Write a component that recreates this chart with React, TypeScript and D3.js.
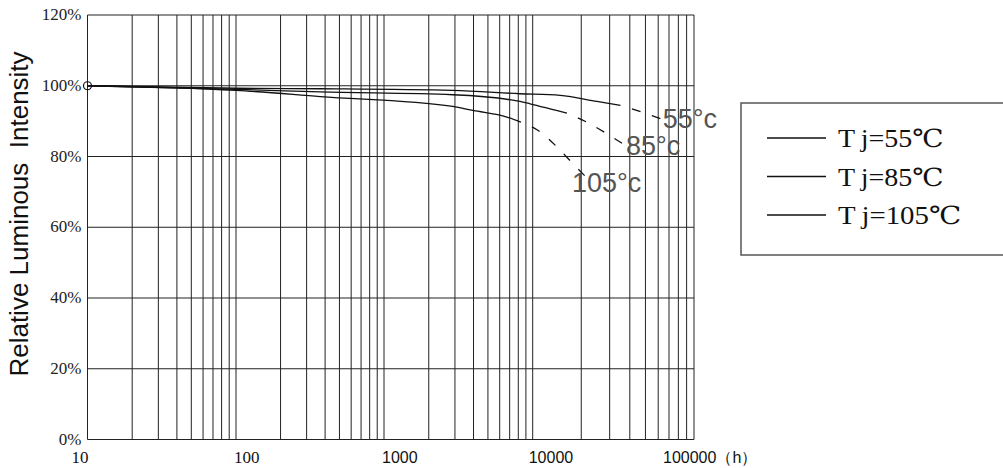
import React from 'react'
import * as d3 from 'd3'

// hours / relative intensity (%)
const xTicks = [10, 100, 1000, 10000, 100000]
const xTickLabels = ['10', '100', '1000', '10000', '100000（h）']
const yTicks = [0, 20, 40, 60, 80, 100, 120]
const yTickLabels = ['0%', '20%', '40%', '60%', '80%', '100%', '120%']

const seriesNames = ['Tj=55℃', 'Tj=85℃', 'Tj=105℃']
const curveLabels = ['55°c', '85°c', '105°c']

const solid55: [number, number][] = [
  [10, 100], [100, 99.3], [370, 99.15], [2900, 98.67], [8200, 97.74],
  [14800, 97.26], [25000, 95.56], [35000, 94.43],
]
const dash55: [number, number][] = [[35000, 94.43], [47700, 92.5], [63000, 90.6]]

const solid85: [number, number][] = [
  [10, 100], [100, 99.0], [370, 98.25], [2900, 97.45], [8200, 95.56],
  [9600, 94.9], [14800, 92.73], [16300, 92.28],
]
const dash85: [number, number][] = [[16300, 92.28], [21700, 89.7], [28900, 86.4], [37900, 83.0]]

const solid105: [number, number][] = [
  [10, 100], [100, 98.7], [370, 96.95], [2900, 94.14], [3970, 93.01],
  [6710, 91.15], [8340, 89.73],
]
const dash105: [number, number][] = [
  [8340, 89.73], [11250, 86.8], [14360, 82.4], [18030, 77.65], [23300, 72.5],
]

const solids = [solid55, solid85, solid105]
const dashes = [dash55, dash85, dash105]

const W = 1003
const H = 468

const App: React.FC = () => {
  // the decades on the original sheet are not all equally wide
  const x = d3.scaleLog().domain([10, 100, 1000, 10000, 100000]).range([87.5, 236, 384, 532.7, 694])
  const y = d3.scaleLinear().domain([0, 120]).range([439.5, 15])

  const minor: number[] = []
  for (let d = 10; d < 100000; d *= 10) {
    for (let k = 2; k <= 9; k++) minor.push(k * d)
  }

  const line = d3
    .line<[number, number]>()
    .x(d => x(d[0]))
    .y(d => y(d[1]))
    .curve(d3.curveMonotoneX)

  const labelDx = [1, 0, -20]
  const serif = '"Liberation Serif", "DejaVu Serif", serif'
  const sans = '"Liberation Sans", Arial, sans-serif'

  return (
    <svg
      width={W}
      height={H}
      style={{ position: 'absolute', left: 0, top: 0, background: '#fff' }}
    >
      {/* grid */}
      <g stroke="#222" strokeWidth={1}>
        {minor.concat([100, 1000, 10000]).map(v => (
          <line key={'v' + v} x1={x(v)} x2={x(v)} y1={y(120)} y2={y(0)} />
        ))}
        {yTicks.map(v => (
          <line key={'h' + v} x1={x(10)} x2={x(100000)} y1={y(v)} y2={y(v)} />
        ))}
        <line x1={x(10)} x2={x(10)} y1={y(120)} y2={y(0)} />
        <line x1={x(100000)} x2={x(100000)} y1={y(120)} y2={y(0)} />
      </g>

      {/* y tick labels */}
      {yTicks.map((v, i) => (
        <text
          key={'yl' + v}
          x={x(10) - 6}
          y={y(v) + 5}
          textAnchor="end"
          fontFamily={serif}
          fontSize={17}
          fill="#222"
        >
          {yTickLabels[i]}
        </text>
      ))}

      {/* x tick labels */}
      {xTicks.map((v, i) => {
        const isSerif = v <= 100
        const anchor = i === 0 ? 'end' : 'start'
        const dx = i === 0 ? 1 : i === xTicks.length - 1 ? -31 : i === 3 ? -4 : -2
        return (
          <text
            key={'xl' + v}
            x={x(v) + dx}
            y={463}
            textAnchor={anchor}
            fontFamily={isSerif ? serif : sans}
            fontSize={isSerif ? 17 : 16}
            fill="#111"
          >
            {xTickLabels[i]}
          </text>
        )
      })}

      {/* y axis title */}
      <text
        transform={`translate(28,214) rotate(-90)`}
        textAnchor="middle"
        fontFamily={sans}
        fontSize={26}
        fill="#111"
        style={{ whiteSpace: 'pre' }}
      >
        {'Relative Luminous  Intensity'}
      </text>

      {/* curves */}
      <g fill="none" stroke="#111" strokeWidth={1.3}>
        {solids.map((s, i) => (
          <path key={'s' + i} d={line(s) || ''} />
        ))}
        {dashes.map((s, i) => (
          <path key={'d' + i} d={line(s) || ''} strokeDasharray="9,12" strokeDashoffset={9} />
        ))}
      </g>
      <circle cx={x(10)} cy={y(100)} r={4} fill="none" stroke="#111" strokeWidth={1.2} />

      {/* curve labels */}
      {dashes.map((s, i) => {
        const end = s[s.length - 1]
        return (
          <text
            key={'cl' + i}
            x={x(end[0]) + labelDx[i]}
            y={y(end[1]) + 9}
            fontFamily={sans}
            fontSize={27}
            fill="#555"
          >
            {curveLabels[i]}
          </text>
        )
      })}

      {/* legend */}
      <rect x={741} y={103} width={280} height={152} fill="none" stroke="#555" strokeWidth={1.5} />
      {seriesNames.map((name, i) => {
        const cy = 138 + i * 38.5
        return (
          <g key={'lg' + i}>
            <line x1={767} x2={826} y1={cy} y2={cy} stroke="#111" strokeWidth={1.3} />
            <text
              x={838}
              y={cy + 9}
              fontFamily={serif}
              fontSize={25}
              fill="#111"
              textLength={name.length * 17.6}
              lengthAdjust="spacingAndGlyphs"
            >
              <tspan>{name.slice(0, 1)}</tspan>
              <tspan dx={5}>{name.slice(1)}</tspan>
            </text>
          </g>
        )
      })}
    </svg>
  )
}

export default App
